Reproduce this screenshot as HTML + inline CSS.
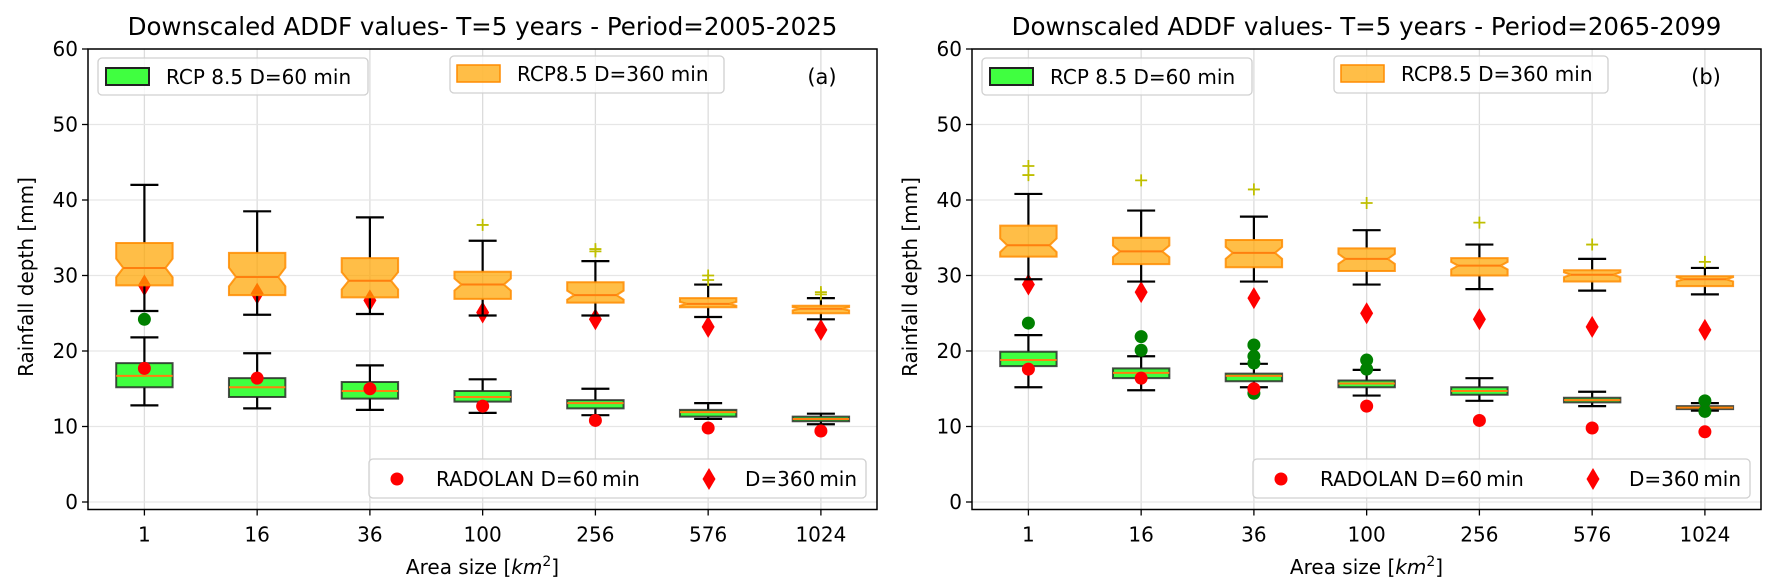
<!DOCTYPE html>
<html><head><meta charset="utf-8"><style>
html,body{margin:0;padding:0;background:#fff;}
svg{display:block;font-family:"DejaVu Sans","Liberation Sans",sans-serif;}
</style></head><body>
<svg id="fig" width="1777" height="587" viewBox="0 0 1777 587" xmlns="http://www.w3.org/2000/svg"></svg>
<script>
const categories = ["1","16","36","100","256","576","1024"];
const yTicks = [0,10,20,30,40,50,60];
// panel a: [whiskerLow, q1, median, q3, whiskerHigh]
const a360 = [[25.3,28.7,31.0,34.3,42.0],[24.8,27.4,29.8,33.0,38.5],[24.9,27.1,29.3,32.3,37.7],[24.7,26.9,28.8,30.5,34.6],[24.7,26.4,27.4,29.1,31.9],[24.5,25.8,26.25,27.0,28.8],[24.2,25.0,25.6,26.0,27.0]];
const a60 = [[12.8,15.2,16.7,18.4,21.8],[12.4,13.9,15.2,16.4,19.7],[12.2,13.7,14.7,15.9,18.1],[11.8,13.3,13.9,14.7,16.25],[11.5,12.4,13.1,13.5,15.0],[11.0,11.3,11.9,12.2,13.1],[10.3,10.7,11.0,11.3,11.7]];
const a360Out = [[],[],[],[36.7],[33.5,33.2],[30.0,29.4],[27.8,27.5]];
const a60Out = [[24.2],[],[],[],[],[],[]];
const aRad60 = [17.7,16.4,15.0,12.7,10.8,9.8,9.4];
const aRad360 = [28.7,27.6,26.7,25.1,24.2,23.2,22.8];
// panel b
const b360 = [[29.5,32.5,34.0,36.6,40.8],[29.2,31.5,33.2,35.0,38.6],[29.2,31.1,33.0,34.7,37.8],[28.8,30.6,32.2,33.6,36.0],[28.2,30.0,31.3,32.3,34.1],[28.0,29.2,30.1,30.7,32.2],[27.5,28.6,29.5,29.9,31.0]];
const b60 = [[15.2,18.0,18.8,19.9,22.1],[14.8,16.4,17.1,17.7,19.3],[15.2,16.0,16.7,17.0,18.3],[14.1,15.2,15.7,16.1,17.5],[13.4,14.2,14.7,15.2,16.4],[12.7,13.2,13.5,13.8,14.6],[12.1,12.3,12.5,12.7,13.1]];
const b360Out = [[44.5,43.3],[42.6],[41.4],[39.6],[37.0],[34.1],[31.8]];
const b60Out = [[23.7],[21.9,20.1],[20.8,19.3,18.4,14.4],[18.8,17.6],[],[],[13.4,12.0]];
const bRad60 = [17.6,16.4,15.0,12.7,10.8,9.8,9.3];
const bRad360 = [28.8,27.8,27.0,25.0,24.2,23.2,22.8];

const NS="http://www.w3.org/2000/svg";
const svg=document.getElementById('fig');
function mk(tag,attrs,parent,text){const e=document.createElementNS(NS,tag);for(const k in attrs)e.setAttribute(k,attrs[k]);if(text!==undefined)e.textContent=text;(parent||svg).appendChild(e);return e;}

function panel(off,title,letter,d360,d60,o360,o60,r60,r360,pname){
  const L=88+off,R=877+off,T=49,B=509.5;
  const y0=502,ppu=(502-49)/60;
  const Y=v=>y0-v*ppu;
  const X=i=>L+56.4+i*112.75;
  const g=mk('g',{});
  
  
  categories.forEach((c,i)=>{const l=mk('line',{x1:X(i),x2:X(i),y1:T,y2:B,stroke:'#dcdcdc','stroke-width':1.3},g);
    });
  yTicks.forEach(t=>{const l=mk('line',{x1:L,x2:R,y1:Y(t),y2:Y(t),stroke:'#e6e6e6','stroke-width':1.3},g);
    });
  const hw=28.2,cw=14;
  function box(d,i,fill,edge,edgeOp,notch,nm){
    const [wl,q1,md,q3,wh]=d;const x=X(i);
    const bg=mk('g',{},g);
    
    
    mk('line',{x1:x,x2:x,y1:Y(q3),y2:Y(wh),stroke:'#000','stroke-width':2.2},bg);
    mk('line',{x1:x,x2:x,y1:Y(q1),y2:Y(wl),stroke:'#000','stroke-width':2.2},bg);
    mk('line',{x1:x-cw,x2:x+cw,y1:Y(wh),y2:Y(wh),stroke:'#000','stroke-width':2.2},bg);
    mk('line',{x1:x-cw,x2:x+cw,y1:Y(wl),y2:Y(wl),stroke:'#000','stroke-width':2.2},bg);
    let pts,mx;
    if(notch){
      let n=Math.min(0.22*(q3-q1),q3-md,md-q1);
      const w2=hw*0.75;mx=w2;
      pts=[[x-hw,Y(q1)],[x+hw,Y(q1)],[x+hw,Y(md-n)],[x+w2,Y(md)],[x+hw,Y(md+n)],[x+hw,Y(q3)],[x-hw,Y(q3)],[x-hw,Y(md+n)],[x-w2,Y(md)],[x-hw,Y(md-n)]];
    } else {mx=hw;pts=[[x-hw,Y(q1)],[x+hw,Y(q1)],[x+hw,Y(q3)],[x-hw,Y(q3)]];}
    mk('polygon',{points:pts.map(p=>p.join(',')).join(' '),fill:fill,stroke:edge,'stroke-opacity':edgeOp,'stroke-width':2},bg);
    mk('line',{x1:x-mx,x2:x+mx,y1:Y(md),y2:Y(md),stroke:'#ff7f0e','stroke-width':2},bg);
  }
  d60.forEach((d,i)=>box(d,i,'#40ff40','#222',0.8,false,'box-60min-'+categories[i]));
  o60.forEach((arr,i)=>arr.forEach(v=>{const c=mk('circle',{cx:X(i),cy:Y(v),r:6.5,fill:'#008000'},g);
    }));
  r360.forEach((v,i)=>{const x=X(i),y=Y(v);const p=mk('polygon',{points:`${x},${y-11} ${x+6.5},${y} ${x},${y+11} ${x-6.5},${y}`,fill:'#ff0000'},g);
    });
  d360.forEach((d,i)=>box(d,i,'rgba(255,165,0,0.72)','#ff8c00',0.85,true,'box-360min-'+categories[i]));
  o360.forEach((arr,i)=>arr.forEach(v=>{const x=X(i),y=Y(v);const p=mk('path',{d:`M${x-6},${y}H${x+6}M${x},${y-6}V${y+6}`,stroke:'#bfbf00','stroke-width':1.8},g);
    }));
  r60.forEach((v,i)=>{const c=mk('circle',{cx:X(i),cy:Y(v),r:6.5,fill:'#ff0000'},g);
    });
  const sp=mk('rect',{x:L,y:T,width:R-L,height:B-T,fill:'none',stroke:'#000','stroke-width':1.5},g);
  
  yTicks.forEach(t=>{mk('line',{x1:L-6,x2:L,y1:Y(t),y2:Y(t),stroke:'#000','stroke-width':1.3},g);
    const tx=mk('text',{x:L-10,y:Y(t)+7,'text-anchor':'end','font-size':20},g,String(t));
    });
  categories.forEach((c,i)=>{mk('line',{x1:X(i),x2:X(i),y1:B,y2:B+6,stroke:'#000','stroke-width':1.3},g);
    const tx=mk('text',{x:X(i),y:B+32,'text-anchor':'middle','font-size':20},g,c);
    });
  const tt=mk('text',{x:(L+R)/2,y:35,'text-anchor':'middle','font-size':24.5},g,title);
  
  const xl=mk('text',{x:(L+R)/2,y:574,'text-anchor':'middle','font-size':20},g);
  
  xl.innerHTML='Area size [<tspan font-style="italic">km</tspan><tspan dy="-8" font-size="14">2</tspan><tspan dy="8">]</tspan>';
  const yl=mk('text',{x:0,y:0,'text-anchor':'middle','font-size':20,transform:`translate(${33+off},277) rotate(-90)`},g,'Rainfall depth [mm]');
  
  const lt=mk('text',{x:822+off,y:84,'text-anchor':'middle','font-size':21},g,letter);
  
  function legbox(x,y,w,h,nm){const r=mk('rect',{x:x,y:y,width:w,height:h,rx:4,fill:'rgba(255,255,255,0.8)',stroke:'#d0d0d0','stroke-width':1.3},g);
    }
  legbox(98+off,58,270,37,'legend-rcp-60');
  mk('rect',{x:106+off,y:68,width:43,height:17,fill:'#40ff40',stroke:'#222','stroke-width':2},g);
  mk('text',{x:166+off,y:84,'font-size':20},g,'RCP 8.5 D=60 min');
  legbox(450+off,56,274,37,'legend-rcp-360');
  mk('rect',{x:457+off,y:65,width:43,height:17,fill:'rgba(255,165,0,0.72)',stroke:'#ff8c00','stroke-width':1.5},g);
  mk('text',{x:517+off,y:81,'font-size':20},g,'RCP8.5 D=360 min');
  legbox(369+off,459,497,39,'legend-radolan');
  mk('circle',{cx:397+off,cy:479,r:6.5,fill:'#ff0000'},g);
  mk('text',{x:436+off,y:486,'font-size':20},g,'RADOLAN D=60\u2009min');
  mk('polygon',{points:`${709+off},468 ${715.5+off},479 ${709+off},490 ${702.5+off},479`,fill:'#ff0000'},g);
  mk('text',{x:745+off,y:486,'font-size':20},g,'D=360\u2009min');
}
panel(0,'Downscaled ADDF values- T=5 years - Period=2005-2025','(a)',a360,a60,a360Out,a60Out,aRad60,aRad360,'panel-a');
panel(884,'Downscaled ADDF values- T=5 years - Period=2065-2099','(b)',b360,b60,b360Out,b60Out,bRad60,bRad360,'panel-b');
</script>
</body></html>
